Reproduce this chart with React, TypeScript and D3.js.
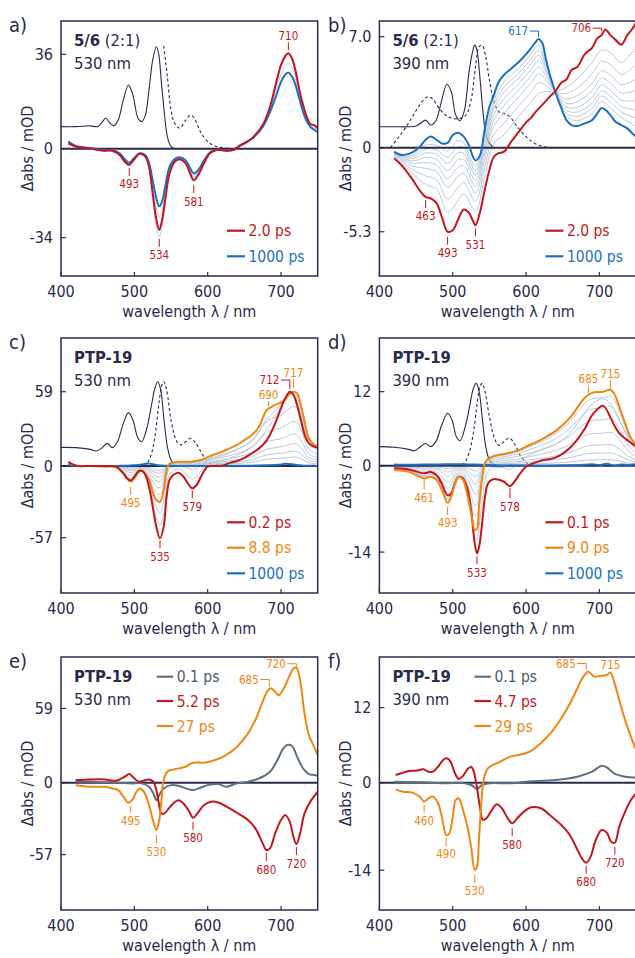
import React from 'react';
import * as d3 from 'd3';

// ---------------- DATA ----------------
// Panel a) 5/6 (2:1), 530 nm
const WL_A = [410,420,440,460,470,480,487,493,500,507,515,520,525,530,534,538,542,548,555,562,570,576,581,587,595,603,612,625,635,645,660,675,685,695,700,705,710,715,720,725,730,735,740,745,750];
const A_RED_2PS = [2.0,0.8,0,-0.8,-0.8,-2.4,-5,-6.2,-4,-2,-3,-6.9,-17,-27,-31,-27,-19.6,-9.4,-5,-4.1,-5.6,-9.4,-12,-10,-5.6,-1.8,-0.5,-0.8,-0.5,1.4,3.9,9,16,27,32,35,36.4,34.5,29.4,22.4,16.7,12.2,9.4,9,7.8];
const A_BLUE_1000PS = [2.7,1.0,0.2,-0.5,-0.6,-1.8,-4,-5.4,-3.5,-1.8,-2.5,-5.5,-12,-19,-22,-20,-14.5,-7,-4,-3.3,-4.5,-7.4,-9.5,-8.2,-4.5,-1.5,-0.4,-0.7,-0.4,1.2,3.7,8.3,14,21.5,25.5,28,29,27.5,24,19,14,10.5,8.3,7.2,6.3];
const A_GRAY_1 = [2.3,0.9,0.1,-0.6,-0.7,-2.1,-4.5,-5.8,-3.7,-1.9,-2.7,-6.2,-14.5,-23,-26,-23.5,-17,-8.2,-4.5,-3.7,-5,-8.4,-10.8,-9.1,-5,-1.6,-0.4,-0.7,-0.4,1.3,3.8,8.6,15,24,28.5,31.5,32.6,31,26.5,20.5,15.2,11.2,8.8,8,7];
const A_GRAY_2 = [2.0,0.8,0,-0.9,-0.9,-2.6,-5.4,-6.6,-4.3,-2.2,-3.3,-7.5,-19,-30,-33.6,-29.5,-21,-10,-5.3,-4.4,-6,-10,-12.6,-10.6,-6,-1.9,-0.5,-0.8,-0.5,1.3,3.8,8.7,15.5,26,31,34,35,33.3,28.5,21.8,16.2,12,9.4,8.8,7.6];
const A_ABS_WL = [400,420,440,450,455,461,467,472,478,485,492,498,505,510,515,520,525,530,533,537,541,545,550,555];
const A_ABS = [8.4,8.4,8.7,8.4,9.7,11.6,9.7,8.7,10.9,18.6,24.3,20.5,11.6,10.3,12.8,22.4,33.8,38.9,36.4,24.9,13.4,4.6,0.8,0];
const A_EM_WL = [540,545,550,555,562,570,577,583,590,600,610,620,630];
const A_EM = [39.2,27.5,14.8,9.7,7.8,10.9,12.8,10.9,6.5,2.7,1.0,0.4,0.1];

// Panel b) 5/6 (2:1), 390 nm
const WL_B = [420,430,445,455,463,470,478,485,493,500,507,515,522,527,531,537,543,550,556,562,570,580,590,600,607,612,617,622,627,633,640,648,655,662,670,680,690,697,703,708,715,722,730,738,745,750];
const B_RED_2PS = [-0.67,-1.1,-2.0,-2.7,-3.1,-3.2,-3.5,-4.35,-5.3,-5.2,-4.56,-3.9,-4.1,-4.56,-4.9,-4.1,-2.8,-1.4,-0.57,-0.36,-0.25,0.4,1.0,1.6,1.9,2.2,2.45,2.7,2.95,3.25,3.55,4.1,4.3,4.9,5.1,5.9,6.3,6.9,7.1,7.45,7.1,6.8,6.5,7.1,7.5,7.9];
const B_BLUE_1000PS = [-0.25,-0.46,-0.3,0.06,0.5,0.7,0.5,0.27,0.3,0.8,0.95,0.7,0.15,-0.5,-0.8,-0.5,1.0,2.58,3.3,4.1,4.6,5.0,5.4,5.9,6.3,6.6,6.85,6.6,5.6,4.5,3.5,2.5,1.74,1.43,1.37,1.53,1.74,2.16,2.5,2.4,2.06,1.64,1.43,1.22,0.9,0.7];
const WL_B_GRAY = [420,445,463,478,493,507,515,531,543,556,570,590,607,617,627,640,655,670,690,703,715,730,745,750];
const B_GRAY_1 = [-0.58,-1.63,-2.31,-2.62,-4.07,-3.35,-2.89,-4.0,-1.96,0.28,0.82,1.97,2.87,3.42,3.53,3.54,3.81,4.36,5.37,6.17,5.99,5.38,6.05,6.32];
const B_GRAY_2 = [-0.51,-1.37,-1.77,-2.02,-3.23,-2.52,-2.2,-3.38,-1.39,0.86,1.54,2.63,3.53,4.08,3.93,3.53,3.42,3.78,4.68,5.46,5.24,4.62,5.06,5.24];
const B_GRAY_3 = [-0.46,-1.15,-1.3,-1.5,-2.5,-1.81,-1.6,-2.85,-0.9,1.37,2.18,3.2,4.1,4.65,4.28,3.53,3.07,3.29,4.07,4.85,4.58,3.97,4.2,4.3];
const B_GRAY_4 = [-0.42,-0.98,-0.94,-1.1,-1.94,-1.25,-1.14,-2.44,-0.52,1.75,2.66,3.64,4.54,5.09,4.54,3.52,2.8,2.9,3.6,4.38,4.08,3.46,3.54,3.58];
const B_GRAY_5 = [-0.38,-0.83,-0.62,-0.74,-1.44,-0.76,-0.73,-2.07,-0.18,2.1,3.1,4.04,4.94,5.49,4.78,3.52,2.56,2.56,3.18,3.96,3.62,3.0,2.95,2.93];
const B_GRAY_6 = [-0.35,-0.69,-0.33,-0.42,-0.99,-0.32,-0.36,-1.74,0.13,2.41,3.48,4.39,5.29,5.84,4.99,3.51,2.35,2.25,2.81,3.58,3.22,2.6,2.42,2.36];
const B_GRAY_7 = [-0.32,-0.57,-0.08,-0.14,-0.6,0.07,-0.04,-1.46,0.39,2.68,3.82,4.7,5.6,6.15,5.18,3.51,2.17,1.98,2.49,3.25,2.87,2.24,1.96,1.85];
const B_GRAY_8 = [-0.29,-0.45,0.18,0.14,-0.2,0.45,0.29,-1.17,0.66,2.95,4.16,5.0,5.9,6.45,5.36,3.5,1.98,1.71,2.16,2.92,2.51,1.89,1.49,1.35];
const B_ABS_WL = [400,420,440,450,456,463,470,477,485,492,498,504,510,516,522,527,530,533,537,541,545,550,555];
const B_ABS = [1.32,1.32,1.32,1.37,1.53,1.74,1.43,1.7,3.0,4.0,3.53,2.06,1.7,2.37,4.7,6.05,6.47,6.16,4.47,2.37,0.9,0.27,0.06];
const B_EM_WL = [415,425,435,445,455,465,472,480,490,500,510,518,525,531,536,540,545,550,556,563,570,578,588,600,612,625,640];
const B_EM = [0,0.59,1.22,1.95,2.7,3.2,3.1,2.58,2.06,1.85,1.85,2.06,3.0,5.1,6.37,6.47,5.74,4.26,2.9,2.27,2.16,1.95,1.32,0.7,0.27,0.06,0];

// Panel c) PTP-19, 530 nm
const WL_C = [410,420,440,460,475,485,490,495,500,505,510,515,520,525,530,535,540,544,548,553,560,567,573,579,585,592,600,610,620,630,640,650,660,670,680,690,700,705,712,717,722,728,733,738,745,750];
const C_RED_02PS = [3.4,0.3,0,0,-0.5,-5.8,-9.8,-11.6,-8.5,-4.5,-3.7,-7.1,-16.4,-32.3,-48.2,-57.5,-48.2,-24.4,-11.1,-7.1,-5.3,-8.5,-13.8,-17.7,-15.1,-7.1,-0.5,0,0.3,2.5,4,6.5,10,14,20,31,46,53,59,56.4,48,34,23.3,18,15.4,14.5];
const C_ORANGE_88PS = [2.6,0.5,0,-0.5,-1,-5.8,-9.8,-12.4,-9.8,-5.3,-3.7,-5.8,-11.1,-20.4,-27,-28.5,-19,-3.5,1.8,2.9,3.4,3.4,3.4,3.6,4.2,5.0,7.0,9.3,11.4,14,16.7,20.5,24.6,31.2,44,48,50.5,52.5,57.5,59,57.7,46,33,22,17,15.9];
const C_BLUE_1000PS = [1.0,0.3,0,0,0,0.2,0.3,0.5,0.6,0.8,1.2,1.8,2.0,1.5,0.8,0.4,0.3,0.2,0.2,0.1,0.1,0.1,0.1,0.1,0.1,0.1,0.1,0.1,0.2,0.2,0.2,0.3,0.3,0.4,0.6,0.8,1.2,1.8,1.5,1.2,0.8,0.5,0.3,0.2,0.3,0.1];
const WL_C_GRAY = [410,420,440,475,485,495,505,510,520,525,530,535,540,544,548,560,573,579,585,600,620,640,660,680,690,700,712,717,722,728,738,750];
const C_GRAY_R1 = [3.1,0.37,0,-0.68,-5.8,-11.9,-4.8,-3.7,-14.5,-28.1,-40.8,-47.3,-38,-17.1,-6.6,-2.3,-7.8,-10.2,-8.3,2.1,4.2,8.5,15.1,28.4,37,47.6,58.5,57.3,51.4,38.2,19.4,15];
const C_GRAY_R2 = [2.8,0.44,0,-0.85,-5.8,-12.2,-5.1,-3.7,-12.7,-24,-33.4,-37.2,-27.8,-9.8,-2.1,0.8,-1.8,-2.8,-1.6,4.75,8.1,12.9,20.2,36.8,42.9,49.2,58,58.2,54.8,42.4,20.8,15.5];
const C_GRAY_D1 = [2.1,0.4,0,-0.8,-4.6,-9.9,-4.2,-3.0,-8.9,-16.3,-21.6,-22.8,-15.2,-2.8,1.4,2.7,2.7,2.9,3.4,5.6,9.1,13.4,19.7,35.2,38.4,40.4,46,47.2,46.2,36.8,17.6,12.7];
const C_GRAY_D2 = [1.6,0.3,0,-0.6,-3.5,-7.4,-3.2,-2.2,-6.7,-12.2,-16.2,-17.1,-11.4,-2.1,1.1,2.0,2.0,2.2,2.5,4.2,6.8,10,14.8,26.4,28.8,30.3,34.5,35.4,34.6,27.6,13.2,9.5];
const C_GRAY_D3 = [1.1,0.2,0,-0.4,-2.5,-5.3,-2.3,-1.6,-4.8,-8.8,-11.6,-12.3,-8.2,-1.5,0.8,1.5,1.5,1.5,1.8,3.0,4.9,7.2,10.6,18.9,20.6,21.7,24.7,25.4,24.8,19.8,9.5,6.8];
const C_GRAY_D4 = [0.8,0.2,0,-0.3,-1.7,-3.7,-1.6,-1.1,-3.3,-6.1,-8.1,-8.6,-5.7,-1.1,0.5,1.0,1.0,1.1,1.3,2.1,3.4,5,7.4,13.2,14.4,15.2,17.3,17.7,17.3,13.8,6.6,4.8];
const C_GRAY_D5 = [0.5,0.1,0,-0.2,-1.2,-2.5,-1.1,-0.7,-2.2,-4.1,-5.4,-5.7,-3.8,-0.7,0.4,0.7,0.7,0.7,0.8,1.4,2.3,3.3,4.9,8.8,9.6,10.1,11.5,11.8,11.5,9.2,4.4,3.2];
const C_GRAY_D6 = [0.3,0.1,0,-0.1,-0.7,-1.5,-0.6,-0.4,-1.3,-2.4,-3.2,-3.4,-2.3,-0.4,0.2,0.4,0.4,0.4,0.5,0.8,1.4,2.0,3.0,5.3,5.8,6.1,6.9,7.1,6.9,5.5,2.6,1.9];
const C_ABS_WL = [400,420,440,448,455,463,470,477,485,492,498,505,510,517,523,528,532,536,540,545,550,555,560];
const C_ABS = [14.8,14.6,13.2,11.9,14,18,14.6,19.3,33.9,42.4,36.5,22,19.3,29.9,47.1,61.7,67,60.4,39.2,15.4,4.8,1.6,0.3];
const C_EM_WL = [505,515,522,528,533,537,540,544,550,557,563,570,577,584,592,600,607,615];
const C_EM = [0,0.8,7.4,23.3,47.1,63,67,60.4,36.5,20.7,16.7,19.3,22,18,10.1,3.4,0.8,0];

// Panel d) PTP-19, 390 nm
const WL_D = [420,440,461,470,478,485,493,498,503,508,514,520,525,530,533,536,540,544,548,555,570,578,592,600,620,640,660,680,690,705,715,720,727,735,742,750];
const D_RED_01PS = [-0.43,-0.6,-1.24,-1.0,-1.5,-2.9,-4.8,-4.5,-2.9,-1.8,-2.05,-3.7,-7.2,-12.6,-14.2,-13.1,-9.4,-5.0,-2.9,-2.2,-2.6,-3.3,-1.24,-0.16,0.8,1.3,2.9,6.0,8.2,9.7,7.8,6.6,5.3,4.4,3.8,3.1];
const D_ORANGE_90PS = [-0.7,-1.0,-2.05,-1.8,-2.3,-3.9,-6.0,-5.0,-2.9,-1.8,-2.3,-4.8,-7.7,-10.4,-10.2,-6.5,-2.2,0.5,1.1,1.5,1.9,2.1,2.6,3.1,4.2,5.6,7.8,11.0,11.8,12.0,12.3,11.7,9.6,6.9,4.7,3.35];
const D_GRAY_R1 = [-0.57,-0.8,-1.65,-1.4,-1.9,-3.4,-5.4,-4.75,-2.9,-1.8,-2.18,-4.25,-7.45,-11.5,-12.2,-9.8,-5.8,-2.25,-0.9,-0.35,-0.35,-0.6,0.68,1.47,2.5,3.45,5.35,8.5,10.0,10.85,10.05,9.15,7.45,5.65,4.25,3.23];
const D_GRAY_D1 = [-0.64,-0.92,-1.89,-1.66,-2.12,-3.59,-5.52,-4.6,-2.67,-1.66,-2.12,-4.42,-7.08,-9.57,-9.38,-5.98,-2.02,0.46,1.01,1.38,1.75,1.93,2.39,2.85,3.86,5.15,7.18,10.12,10.86,11.04,11.32,10.76,8.83,6.35,4.32,3.08];
const D_GRAY_D2 = [-0.55,-0.78,-1.6,-1.4,-1.79,-3.04,-4.68,-3.9,-2.26,-1.4,-1.79,-3.74,-6.01,-8.11,-7.96,-5.07,-1.72,0.39,0.86,1.17,1.48,1.64,2.03,2.42,3.28,4.37,6.08,8.58,9.2,9.36,9.59,9.13,7.49,5.38,3.67,2.61];
const D_GRAY_D3 = [-0.43,-0.62,-1.27,-1.12,-1.43,-2.42,-3.72,-3.1,-1.8,-1.12,-1.43,-2.98,-4.77,-6.45,-6.32,-4.03,-1.36,0.31,0.68,0.93,1.18,1.3,1.61,1.92,2.6,3.47,4.84,6.82,7.32,7.44,7.63,7.25,5.95,4.28,2.91,2.08];
const D_GRAY_D4 = [-0.31,-0.44,-0.9,-0.79,-1.01,-1.72,-2.64,-2.2,-1.28,-0.79,-1.01,-2.11,-3.39,-4.58,-4.49,-2.86,-0.97,0.22,0.48,0.66,0.84,0.92,1.14,1.36,1.85,2.46,3.43,4.84,5.19,5.28,5.41,5.15,4.22,3.04,2.07,1.47];
const D_GRAY_D5 = [-0.2,-0.28,-0.57,-0.5,-0.64,-1.09,-1.68,-1.4,-0.81,-0.5,-0.64,-1.34,-2.16,-2.91,-2.86,-1.82,-0.62,0.14,0.31,0.42,0.53,0.59,0.73,0.87,1.18,1.57,2.18,3.08,3.3,3.36,3.44,3.28,2.69,1.93,1.32,0.94];
const D_GRAY_D6 = [-0.12,-0.17,-0.35,-0.31,-0.39,-0.66,-1.02,-0.85,-0.49,-0.31,-0.39,-0.82,-1.31,-1.77,-1.73,-1.1,-0.37,0.09,0.19,0.26,0.32,0.36,0.44,0.53,0.71,0.95,1.33,1.87,2.01,2.04,2.09,1.99,1.63,1.17,0.8,0.57];
const D_GRAY_D7 = [-0.06,-0.08,-0.16,-0.14,-0.18,-0.31,-0.48,-0.4,-0.23,-0.14,-0.18,-0.38,-0.62,-0.83,-0.82,-0.52,-0.18,0.04,0.09,0.12,0.15,0.17,0.21,0.25,0.34,0.45,0.62,0.88,0.94,0.96,0.98,0.94,0.77,0.55,0.38,0.27];
const D_BLUE_WL = [420,440,460,480,500,520,540,560,600,640,680,690,700,710,720,730,740,750];
const D_BLUE_1000PS = [0.2,0.15,0.2,0.2,0.25,0.2,0.15,0.05,0,0.05,0.15,0.25,0.1,0.3,0.05,0.2,0.1,0.25];
const D_ABS_WL = [400,420,440,448,455,463,470,477,485,493,499,505,510,517,523,528,532,536,540,545,550,555,560];
const D_ABS = [3.1,3.0,2.65,2.43,3.0,3.6,3.1,3.9,6.6,8.5,7.4,4.7,4.05,6.3,9.6,12.5,13.35,12,7.95,3.1,0.92,0.27,0.05];
const D_EM_WL = [505,515,522,528,533,537,540,544,550,557,563,570,577,584,592,600,607,615];
const D_EM = [0,0.38,2.0,5.2,9.8,12.8,13.35,12.0,7.95,4.4,3.3,3.9,4.5,3.6,1.7,0.5,0.1,0];

// Panel e) PTP-19, 530 nm (decay-associated)
const E_SLATE_WL = [420,440,460,480,495,510,520,526,530,535,540,550,560,570,580,590,600,615,625,640,655,670,685,695,703,708,715,722,730,738,745,750];
const E_SLATE_01PS = [1.0,0.8,0.3,0,-0.5,-0.5,-3.2,-8.5,-13.8,-8.5,-4.5,-1.9,-2.4,-4.5,-5.8,-4.0,-1.9,-1.1,-3.2,-0.5,0.8,3.4,8.7,18,27.2,29.9,29.1,20.6,11.4,6.9,6.1,5.6];
const E_RED_WL = [420,440,460,475,487,493,500,506,512,520,526,530,533,537,541,547,553,560,567,575,580,586,595,605,615,630,645,655,665,675,680,685,692,700,706,712,717,721,726,732,740,750];
const E_RED_52PS = [2.1,2.6,2.6,1.6,4.8,6.9,3.4,0.8,1.6,2.6,0.8,-5.8,-15,-24.3,-24.3,-20.4,-16.4,-13.8,-16.4,-23,-27.8,-24.3,-17.7,-15,-15.9,-20.4,-25.7,-29.6,-36.2,-48.1,-53.4,-52.1,-40.2,-29.6,-25.7,-31,-42.9,-48.7,-40.2,-24.3,-15,-7.1];
const E_ORANGE_WL = [420,440,460,470,478,485,492,497,503,508,513,520,526,530,534,537,540,545,550,560,570,580,595,610,625,640,655,665,675,681,686,692,697,705,712,717,721,726,732,738,744,750];
const E_ORANGE_27PS = [-1.9,-3.2,-3.2,-4.5,-5.8,-11.1,-15.9,-13.8,-7.1,-4.5,-7.1,-17.7,-31,-37.6,-29.6,-13.8,2.1,8.7,10.1,11.4,12.7,15.9,15.9,18,22,28.6,39.2,49.7,64.3,72.2,74.9,72.2,69.6,76.2,85.4,90.7,91.3,81.5,55,37.8,29.9,22];

// Panel f) PTP-19, 390 nm (decay-associated)
const F_SLATE_WL = [420,460,490,510,525,533,540,550,580,600,640,670,690,703,710,720,735,750];
const F_SLATE_01PS = [0.16,0.05,-0.1,0,-0.37,-1.0,-0.37,-0.1,-0.1,0.16,0.43,0.96,1.76,2.7,2.45,1.5,0.96,0.8];
const F_RED_WL = [422,430,440,450,460,467,473,480,487,492,497,503,508,513,520,525,528,532,537,541,546,552,560,567,575,581,588,597,607,620,635,648,658,668,676,682,688,695,703,710,716,721,727,735,743,750];
const F_RED_47PS = [1.23,1.5,1.87,1.92,2.13,1.76,1.76,2.56,3.63,3.9,3.36,1.5,0.6,0.96,2.13,2.56,2.0,-0.1,-3.84,-5.97,-5.7,-4.64,-3.47,-4.1,-5.7,-6.5,-5.7,-4.64,-3.95,-4.1,-5.44,-6.77,-8.1,-10.24,-12.1,-12.8,-11.84,-9.17,-7.57,-8.0,-9.44,-9.6,-7.04,-4.64,-2.77,-1.7];
const F_ORANGE_WL = [422,432,445,455,461,467,473,480,486,491,495,500,504,508,514,520,525,530,533,536,540,543,548,555,565,578,590,605,620,635,648,660,670,678,685,693,700,710,715,720,727,735,742,750];
const F_ORANGE_29PS = [-1.07,-1.44,-1.6,-2.24,-3.04,-2.5,-2.24,-3.3,-5.97,-8.37,-8.2,-5.44,-2.77,-2.5,-4.37,-7.04,-10.24,-13.97,-13.44,-8.64,-1.7,0.96,2.3,2.83,3.36,4.16,4.43,4.96,6.3,8.16,10.3,12.7,15.1,16.96,17.76,16.96,17.07,17.23,17.6,16.16,13.23,10.03,7.63,5.23];

// Axis ticks
const X_TICKS = [400, 500, 600, 700];
const A_Y_TICKS = [36, 0, -34];
const B_Y_TICKS = [7.0, 0, -5.3];
const CE_Y_TICKS = [59, 0, -57];
const DF_Y_TICKS = [12, 0, -14];

// ---------------- STYLE ----------------
const FONT = '"Liberation Sans Narrow", "Arial Narrow", "DejaVu Sans Condensed", sans-serif';
const INK = '#2b2a4a';
const RED = '#c4161e';
const BLUE = '#1b6fc4';
const ORANGE = '#ef8612';
const GRAY = '#b9c8d7';
const SLATE = '#5d7181';
const SLATE_TEXT = '#4a5a6b';

const COLS = [{ left: 61, right: 317.7 }, { left: 379.4, right: 636.1 }];
const ROWS = [{ top: 21, bottom: 276 }, { top: 338, bottom: 593 }, { top: 657, bottom: 910 }];

type Curve = { wl: number[]; v: number[]; color: string; w: number; dash?: string };
type Ann = { t: string; nm: number; val: number; color: string; kind: 'up' | 'down' | 'bracket' | 'text'; off: number; len?: number };
type Leg = { t: string; c: string; tc?: string };
type Panel = {
  id: string; col: number; row: number; yDomain: [number, number]; yTicks: number[];
  bold: string; rest: string; line2: string;
  back: Curve[]; front: Curve[]; anns: Ann[]; legend: Leg[]; legendTop: boolean;
};

const c = (wl: number[], v: number[], color: string, w: number, dash?: string): Curve => ({ wl, v, color, w, dash });
const grays = (wl: number[], list: number[][]) => list.map((v) => c(wl, v, GRAY, 1));

const PANELS: Panel[] = [
  {
    id: 'a', col: 0, row: 0, yDomain: [-48.6, 48.7], yTicks: A_Y_TICKS,
    bold: '5/6', rest: ' (2:1)', line2: '530 nm',
    back: [c(A_ABS_WL, A_ABS, INK, 1.1), c(A_EM_WL, A_EM, INK, 1.1, '3,2.5'), ...grays(WL_A, [A_GRAY_2, A_GRAY_1])],
    front: [c(WL_A, A_BLUE_1000PS, BLUE, 2), c(WL_A, A_RED_2PS, RED, 2)],
    anns: [
      { t: '710', nm: 710, val: 36.4, color: RED, kind: 'up', off: 3 },
      { t: '493', nm: 493, val: -6.2, color: RED, kind: 'down', off: 3 },
      { t: '534', nm: 534, val: -31, color: RED, kind: 'down', off: 9 },
      { t: '581', nm: 581, val: -12, color: RED, kind: 'down', off: 5 },
    ],
    legend: [{ t: '2.0 ps', c: RED }, { t: '1000 ps', c: BLUE }], legendTop: false,
  },
  {
    id: 'b', col: 1, row: 0, yDomain: [-8.09, 7.99], yTicks: B_Y_TICKS,
    bold: '5/6', rest: ' (2:1)', line2: '390 nm',
    back: [c(B_ABS_WL, B_ABS, INK, 1.1), c(B_EM_WL, B_EM, INK, 1.1, '3,2.5'),
      ...grays(WL_B_GRAY, [B_GRAY_1, B_GRAY_2, B_GRAY_3, B_GRAY_4, B_GRAY_5, B_GRAY_6, B_GRAY_7, B_GRAY_8])],
    front: [c(WL_B, B_BLUE_1000PS, BLUE, 2), c(WL_B, B_RED_2PS, RED, 2)],
    anns: [
      { t: '617', nm: 617, val: 6.85, color: BLUE, kind: 'bracket', off: 2, len: 6 },
      { t: '706', nm: 703, val: 7.35, color: RED, kind: 'bracket', off: 0, len: 3 },
      { t: '463', nm: 463, val: -3.1, color: RED, kind: 'down', off: 3 },
      { t: '493', nm: 493, val: -5.3, color: RED, kind: 'down', off: 5 },
      { t: '531', nm: 531, val: -4.9, color: RED, kind: 'down', off: 3 },
    ],
    legend: [{ t: '2.0 ps', c: RED }, { t: '1000 ps', c: BLUE }], legendTop: false,
  },
  {
    id: 'c', col: 0, row: 1, yDomain: [-100.9, 101.7], yTicks: CE_Y_TICKS,
    bold: 'PTP-19', rest: '', line2: '530 nm',
    back: [c(C_ABS_WL, C_ABS, INK, 1.1), c(C_EM_WL, C_EM, INK, 1.1, '3,2.5'),
      ...grays(WL_C_GRAY, [C_GRAY_R1, C_GRAY_R2, C_GRAY_D1, C_GRAY_D2, C_GRAY_D3, C_GRAY_D4, C_GRAY_D5, C_GRAY_D6])],
    front: [c(WL_C, C_BLUE_1000PS, BLUE, 2), c(WL_C, C_ORANGE_88PS, ORANGE, 2), c(WL_C, C_RED_02PS, RED, 2)],
    anns: [
      { t: '712', nm: 712, val: 59, color: RED, kind: 'bracket', off: 2.7, len: 9 },
      { t: '717', nm: 717, val: 59, color: ORANGE, kind: 'up', off: 3.7, len: 9 },
      { t: '690', nm: 683, val: 46, color: ORANGE, kind: 'up', off: 2, len: 5 },
      { t: '495', nm: 495, val: -12.4, color: ORANGE, kind: 'down', off: 5 },
      { t: '535', nm: 535, val: -57.5, color: RED, kind: 'down', off: 2 },
      { t: '579', nm: 579, val: -17.7, color: RED, kind: 'down', off: 2 },
    ],
    legend: [{ t: '0.2 ps', c: RED }, { t: '8.8 ps', c: ORANGE }, { t: '1000 ps', c: BLUE }], legendTop: false,
  },
  {
    id: 'd', col: 1, row: 1, yDomain: [-20.63, 20.7], yTicks: DF_Y_TICKS,
    bold: 'PTP-19', rest: '', line2: '390 nm',
    back: [c(D_ABS_WL, D_ABS, INK, 1.1), c(D_EM_WL, D_EM, INK, 1.1, '3,2.5'),
      ...grays(WL_D, [D_GRAY_R1, D_GRAY_D1, D_GRAY_D2, D_GRAY_D3, D_GRAY_D4, D_GRAY_D5, D_GRAY_D6, D_GRAY_D7])],
    front: [c(D_BLUE_WL, D_BLUE_1000PS, BLUE, 2), c(WL_D, D_RED_01PS, RED, 2), c(WL_D, D_ORANGE_90PS, ORANGE, 2)],
    anns: [
      { t: '685', nm: 685, val: 11.5, color: ORANGE, kind: 'up', off: 1.5 },
      { t: '715', nm: 715, val: 12.3, color: ORANGE, kind: 'up', off: 0.5, len: 9 },
      { t: '461', nm: 461, val: -2.05, color: ORANGE, kind: 'down', off: 1, len: 10 },
      { t: '493', nm: 493, val: -6.0, color: ORANGE, kind: 'down', off: 4 },
      { t: '533', nm: 533, val: -14.2, color: RED, kind: 'down', off: 3 },
      { t: '578', nm: 578, val: -3.3, color: RED, kind: 'down', off: 2, len: 10 },
    ],
    legend: [{ t: '0.1 ps', c: RED }, { t: '9.0 ps', c: ORANGE }, { t: '1000 ps', c: BLUE }], legendTop: false,
  },
  {
    id: 'e', col: 0, row: 2, yDomain: [-101, 99.8], yTicks: CE_Y_TICKS,
    bold: 'PTP-19', rest: '', line2: '530 nm',
    back: [],
    front: [c(E_SLATE_WL, E_SLATE_01PS, SLATE, 2), c(E_RED_WL, E_RED_52PS, RED, 2), c(E_ORANGE_WL, E_ORANGE_27PS, ORANGE, 2)],
    anns: [
      { t: '685', nm: 684, val: 74, color: ORANGE, kind: 'bracket', off: 2.5, len: 7.5 },
      { t: '720', nm: 721, val: 91.3, color: ORANGE, kind: 'bracket', off: 1, len: 3 },
      { t: '495', nm: 495, val: -15.9, color: ORANGE, kind: 'down', off: 3, len: 7 },
      { t: '530', nm: 530, val: -37.6, color: ORANGE, kind: 'down', off: 5 },
      { t: '580', nm: 580, val: -27.8, color: RED, kind: 'down', off: 4 },
      { t: '680', nm: 680, val: -53.4, color: RED, kind: 'down', off: 3 },
      { t: '720', nm: 721, val: -48.7, color: RED, kind: 'down', off: 3 },
    ],
    legend: [{ t: '0.1 ps', c: SLATE, tc: SLATE_TEXT }, { t: '5.2 ps', c: RED }, { t: '27 ps', c: ORANGE }], legendTop: true,
  },
  {
    id: 'f', col: 1, row: 2, yDomain: [-20.37, 20.1], yTicks: DF_Y_TICKS,
    bold: 'PTP-19', rest: '', line2: '390 nm',
    back: [],
    front: [c(F_SLATE_WL, F_SLATE_01PS, SLATE, 2), c(F_RED_WL, F_RED_47PS, RED, 2), c(F_ORANGE_WL, F_ORANGE_29PS, ORANGE, 2)],
    anns: [
      { t: '685', nm: 682, val: 17.3, color: ORANGE, kind: 'bracket', off: 5, len: 6 },
      { t: '715', nm: 715, val: 17.6, color: ORANGE, kind: 'text', off: 3.5 },
      { t: '460', nm: 461, val: -3.04, color: ORANGE, kind: 'down', off: 3 },
      { t: '490', nm: 491, val: -8.37, color: ORANGE, kind: 'down', off: 3 },
      { t: '530', nm: 530, val: -13.97, color: ORANGE, kind: 'down', off: 5 },
      { t: '580', nm: 581, val: -6.5, color: RED, kind: 'down', off: 5 },
      { t: '680', nm: 682, val: -12.8, color: RED, kind: 'down', off: 3 },
      { t: '720', nm: 721, val: -9.6, color: RED, kind: 'down', off: 4 },
    ],
    legend: [{ t: '0.1 ps', c: SLATE, tc: SLATE_TEXT }, { t: '4.7 ps', c: RED }, { t: '29 ps', c: ORANGE }], legendTop: true,
  },
];

function fmtTick(v: number, id: string) {
  if (id === 'b') return v === 0 ? '0' : v.toFixed(1);
  return String(v);
}

const ANN_FS = 11.5;

function PanelView({ p }: { p: Panel }) {
  const { left, right } = COLS[p.col];
  const { top, bottom } = ROWS[p.row];
  const x = d3.scaleLinear().domain([400, 750]).range([left, right]);
  const y = d3.scaleLinear().domain(p.yDomain).range([bottom, top]);
  const gen = d3.line<[number, number]>().x((d) => x(d[0])).y((d) => y(d[1])).curve(d3.curveCatmullRom.alpha(0.5));
  const path = (cv: Curve) => gen(cv.wl.map((w, i) => [w, cv.v[i]] as [number, number])) || '';
  const clipId = `clip-${p.id}`;
  const midY = (top + bottom) / 2;

  const legendRows = p.legendTop ? [19.7, 44, 69] : (p.legend.length === 3 ? [184.3, 209.7, 235.3] : [209.7, 235.3]);
  const legX = p.legendTop ? (p.col === 0 ? 95.7 : 95) : 166;
  const legLen = p.legendTop ? 16.5 : 18;

  return (
    <g>
      <defs>
        <clipPath id={clipId}>
          <rect x={left} y={top} width={right - left} height={bottom - top} />
        </clipPath>
      </defs>
      <g clipPath={`url(#${clipId})`}>
        {p.back.map((cv, i) => (
          <path key={`b${i}`} d={path(cv)} fill="none" stroke={cv.color} strokeWidth={cv.w} strokeDasharray={cv.dash} />
        ))}
        <line x1={left} x2={right} y1={y(0)} y2={y(0)} stroke={INK} strokeWidth={2} />
        {p.front.map((cv, i) => (
          <path key={`f${i}`} d={path(cv)} fill="none" stroke={cv.color} strokeWidth={cv.w} strokeLinejoin="round" />
        ))}
      </g>
      <rect x={left} y={top} width={right - left} height={bottom - top} fill="none" stroke={INK} strokeWidth={1.5} />
      {p.yTicks.map((v) => (
        <g key={`yt${v}`}>
          <line x1={left} x2={left + 5} y1={y(v)} y2={y(v)} stroke={INK} strokeWidth={1.2} />
          <text x={left - 8} y={y(v) + 5.5} textAnchor="end" fontSize={16} fill={INK}>{fmtTick(v, p.id)}</text>
        </g>
      ))}
      {X_TICKS.map((v) => (
        <g key={`xt${v}`}>
          <line x1={x(v)} x2={x(v)} y1={bottom} y2={bottom - 4} stroke={INK} strokeWidth={1.2} />
          <text x={x(v)} y={bottom + 21} textAnchor="middle" fontSize={16} fill={INK}>{v}</text>
        </g>
      ))}
      <text x={(left + right) / 2} y={bottom + 41} textAnchor="middle" fontSize={16} fill={INK}>wavelength λ / nm</text>
      <text transform={`translate(${left - 28},${midY}) rotate(-90)`} textAnchor="middle" fontSize={16} fill={INK}>Δabs / mOD</text>
      <text x={p.col === 0 ? 9 : 328} y={top + 11} fontSize={20} fill={INK}>{p.id})</text>
      <text x={left + 13} y={top + 24.5} fontSize={16.5} fill={INK}>
        <tspan fontWeight="bold">{p.bold}</tspan>
        {p.rest ? <tspan>{p.rest}</tspan> : null}
      </text>
      <text x={left + 13} y={top + 48} fontSize={16.5} fill={INK}>{p.line2}</text>
      {p.legend.map((lg, i) => (
        <g key={`lg${i}`}>
          <line x1={left + legX} x2={left + legX + legLen} y1={top + legendRows[i]} y2={top + legendRows[i]} stroke={lg.c} strokeWidth={2.2} />
          <text x={left + legX + legLen + 3.5} y={top + legendRows[i] + 5.5} fontSize={15.5} fill={lg.tc || lg.c}>{lg.t}</text>
        </g>
      ))}
      {p.anns.map((a, i) => {
        const ax = x(a.nm);
        const ay = y(a.val);
        const len = a.len ?? 8;
        if (a.kind === 'down') {
          const y0 = ay + a.off, y1 = y0 + len;
          return (
            <g key={`an${i}`}>
              <line x1={ax} x2={ax} y1={y0} y2={y1} stroke={a.color} strokeWidth={1} />
              <text x={ax} y={y1 + 12.5} textAnchor="middle" fontSize={ANN_FS} fill={a.color}>{a.t}</text>
            </g>
          );
        }
        if (a.kind === 'up') {
          const y1 = ay - a.off, y0 = y1 - len;
          return (
            <g key={`an${i}`}>
              <line x1={ax} x2={ax} y1={y0} y2={y1} stroke={a.color} strokeWidth={1} />
              <text x={ax} y={y0 - 2.5} textAnchor="middle" fontSize={ANN_FS} fill={a.color}>{a.t}</text>
            </g>
          );
        }
        if (a.kind === 'bracket') {
          const yb = ay - a.off, yt = yb - len;
          return (
            <g key={`an${i}`}>
              <path d={`M${ax - 9},${yt} H${ax} V${yb}`} fill="none" stroke={a.color} strokeWidth={1} />
              <text x={ax - 10.5} y={yt + 4} textAnchor="end" fontSize={ANN_FS} fill={a.color}>{a.t}</text>
            </g>
          );
        }
        return (
          <text key={`an${i}`} x={ax} y={ay - a.off} textAnchor="middle" fontSize={ANN_FS} fill={a.color}>{a.t}</text>
        );
      })}
    </g>
  );
}

export default function App() {
  return (
    <svg width={635} height={958} viewBox="0 0 635 958" style={{ position: 'absolute', left: 0, top: 0, background: '#fff' }} fontFamily={FONT}>
      <rect x={0} y={0} width={635} height={958} fill="#fff" />
      {PANELS.map((p) => <PanelView key={p.id} p={p} />)}
    </svg>
  );
}
